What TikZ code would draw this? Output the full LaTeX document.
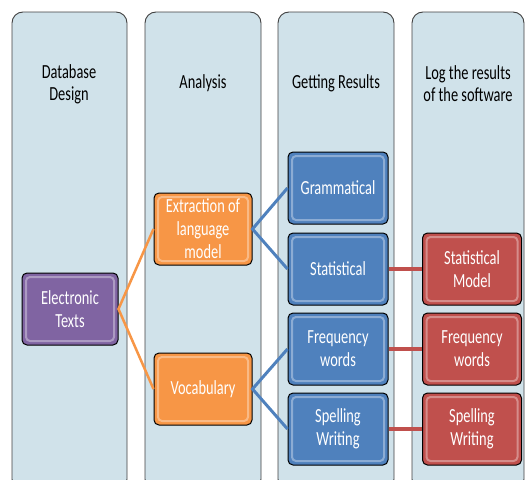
\documentclass[tikz,border=0pt]{standalone}
\usepackage{fontspec}
\setmainfont{Carlito}[FakeStretch=0.72]
\definecolor{colfill}{HTML}{D0E2EA}
\definecolor{purplefill}{HTML}{8064A2}
\definecolor{orangefill}{HTML}{F79646}
\definecolor{bluefill}{HTML}{4F81BD}
\definecolor{redfill}{HTML}{C0504D}
\begin{document}
\begin{tikzpicture}[x=1pt,y=-1pt,
  colbox/.style={draw=black!75,fill=colfill,rounded corners=11pt,line width=0.9pt},
  stage/.style={align=center,text=black,font=\fontsize{20}{22}\selectfont},
  item/.style={draw=black,line width=1pt,rounded corners=5pt,minimum height=72pt,
    align=center,text=white,inner sep=1pt,font=\fontsize{20}{23}\selectfont,
    path picture={\draw[white,opacity=0.35,line width=2pt,rounded corners=4pt]
      ([shift={(4,4)}]path picture bounding box.north west) rectangle
      ([shift={(-4,-4)}]path picture bounding box.south east);}},
  purplebox/.style={item,fill=purplefill,minimum width=96pt},
  orangebox/.style={item,fill=orangefill,minimum width=98pt},
  bluebox/.style={item,fill=bluefill,minimum width=100pt},
  redbox/.style={item,fill=redfill,minimum width=99pt}]
\useasboundingbox (0,0) rectangle (527,479);
\clip (0,0) rectangle (527,479);
% STAGE COLUMNS
\draw [colbox] (12,12) rectangle (127,490);
\draw [colbox] (145,12) rectangle (261,490);
\draw [colbox] (278,12) rectangle (394,490);
\draw [colbox] (412,12) rectangle (524,490);
% STAGE TITLES
\node [stage] (design) at (69,84) {Database\\Design};
\node [stage] (analysis) at (203,83) {Analysis};
\node [stage] (results) at (336,83) {Getting Results};
\node [stage] (logging) at (468,84) {Log the results\\of the software};
% BOXES
\node [purplebox] (texts) at (70,309) {Electronic\\Texts};
\node [orangebox] (extract) at (203,229) {Extraction of\\language\\model};
\node [orangebox] (vocab) at (203,389) {Vocabulary};
\node [bluebox] (gram) at (338,188) {Grammatical};
\node [bluebox] (stat) at (338,269) {Statistical};
\node [bluebox] (freq) at (338,349) {Frequency\\words};
\node [bluebox] (spell) at (338,429) {Spelling\\Writing};
\node [redbox] (statmodel) at (472,269) {Statistical\\Model};
\node [redbox] (freqlog) at (472,349) {Frequency\\words};
\node [redbox] (spelllog) at (472,429) {Spelling\\Writing};
% CONNECTORS
\draw [orangefill,line width=2.5pt] (extract.west) -- (texts.east) -- (vocab.west);
\draw [bluefill,line width=3pt] (gram.west) -- (extract.east) -- (stat.west);
\draw [bluefill,line width=3pt] (freq.west) -- (vocab.east) -- (spell.west);
\draw [redfill,line width=4pt] (stat.east) -- (statmodel.west);
\draw [redfill,line width=4pt] (freq.east) -- (freqlog.west);
\draw [redfill,line width=4pt] (spell.east) -- (spelllog.west);
\end{tikzpicture}
\end{document}
